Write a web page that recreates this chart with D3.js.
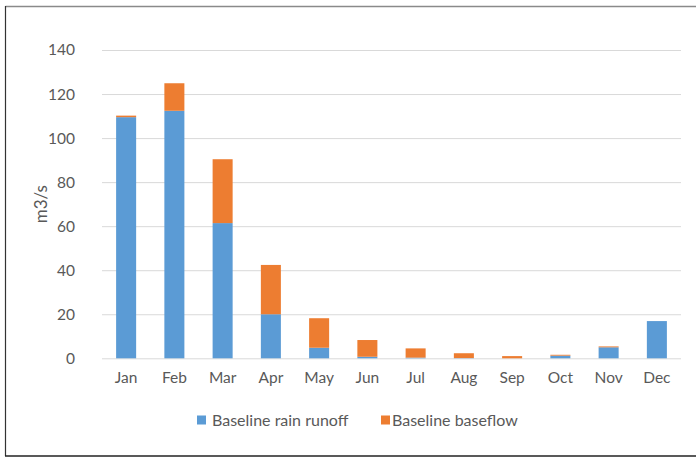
<!DOCTYPE html>
<html>
<head>
<meta charset="utf-8">
<script src="https://cdn.jsdelivr.net/npm/d3@7/dist/d3.min.js"></script>
<style>
  html, body { margin: 0; padding: 0; background: #fff; }
  svg { display: block; }
  text { font-family: Lato, "Liberation Sans", sans-serif; fill: #595959; }
</style>
</head>
<body>
<svg id="chart" width="696" height="457"></svg>
<script>
// Monthly flow split into rain runoff and baseflow (m3/s)
const months = ["Jan", "Feb", "Mar", "Apr", "May", "Jun", "Jul", "Aug", "Sep", "Oct", "Nov", "Dec"];
const rainRunoff = [109.5, 112.4, 61.4, 20.0, 4.8, 0.7, 0.3, 0.1, 0.0, 1.2, 5.0, 16.9];
const baseflow   = [0.7, 12.5, 29.0, 22.4, 13.4, 7.6, 4.2, 2.2, 1.0, 0.4, 0.4, 0.0];
const seriesNames = ["Baseline rain runoff", "Baseline baseflow"];
const seriesColors = ["#5B9BD5", "#ED7D31"];
const yTicks = [0, 20, 40, 60, 80, 100, 120, 140];

const svg = d3.select("#chart");

// Frame around the chart area
svg.append("line").attr("x1", 5.5).attr("x2", 696).attr("y1", 6.5).attr("y2", 6.5)
  .attr("stroke", "#8a8a8a").attr("stroke-width", 1.5);
svg.append("line").attr("x1", 5.5).attr("x2", 5.5).attr("y1", 6).attr("y2", 456)
  .attr("stroke", "#333").attr("stroke-width", 1.2);
svg.append("line").attr("x1", 5).attr("x2", 696).attr("y1", 456).attr("y2", 456)
  .attr("stroke", "#222").attr("stroke-width", 1.5);

const plot = { left: 102, right: 681, top: 50, bottom: 358.3 };

const x = d3.scaleBand()
  .domain(months)
  .range([plot.left, plot.right])
  .paddingInner(0.585)
  .paddingOuter(0.2925);

const y = d3.scaleLinear()
  .domain([0, 140])
  .range([plot.bottom, plot.top]);

// Horizontal gridlines with value labels
const yAxis = d3.axisLeft(y)
  .tickValues(yTicks)
  .tickSize(-(plot.right - plot.left))
  .tickPadding(27)
  .tickFormat(d3.format("d"));

const gy = svg.append("g")
  .attr("transform", `translate(${plot.left},0)`)
  .call(yAxis);
gy.select(".domain").remove();
gy.selectAll(".tick line").attr("stroke", "#d9d9d9").attr("stroke-width", 1);
gy.selectAll(".tick text").attr("font-size", 15.5).attr("fill", "#595959");

// Stacked bars
const rows = months.map((m, i) => ({ month: m, runoff: rainRunoff[i], baseflow: baseflow[i] }));
const stack = d3.stack().keys(["runoff", "baseflow"]);
const layers = stack(rows);

svg.append("g").selectAll("g")
  .data(layers)
  .join("g")
  .attr("fill", (d, i) => seriesColors[i])
  .selectAll("rect")
  .data(d => d)
  .join("rect")
  .attr("x", d => x(d.data.month))
  .attr("width", x.bandwidth())
  .attr("y", d => y(d[1]))
  .attr("height", d => y(d[0]) - y(d[1]));

// Category labels
const xAxis = d3.axisBottom(x).tickSize(0).tickPadding(14);
const gx = svg.append("g")
  .attr("transform", `translate(0,${plot.bottom})`)
  .call(xAxis);
gx.select(".domain").remove();
gx.selectAll(".tick text").attr("font-size", 15.5).attr("fill", "#595959");

// Axis title
svg.append("text")
  .attr("transform", `translate(47,${(plot.top + plot.bottom) / 2}) rotate(-90)`)
  .attr("text-anchor", "middle")
  .attr("font-size", 17)
  .text("m3/s");

// Legend
const legendItems = [
  { name: seriesNames[0], color: seriesColors[0], sx: 197, tx: 212 },
  { name: seriesNames[1], color: seriesColors[1], sx: 381, tx: 392 }
];
const lg = svg.append("g");
legendItems.forEach(it => {
  lg.append("rect").attr("x", it.sx).attr("y", 415.5).attr("width", 9).attr("height", 9)
    .attr("fill", it.color);
  lg.append("text").attr("x", it.tx).attr("y", 425.5).attr("font-size", 16)
    .text(it.name);
});
</script>
</body>
</html>
